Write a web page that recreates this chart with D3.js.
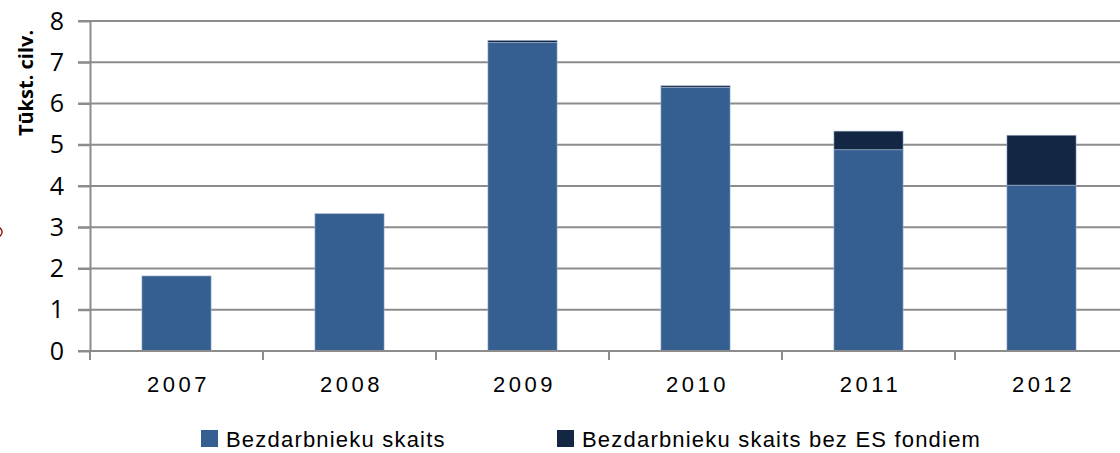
<!DOCTYPE html>
<html lang="en">
<head>
<meta charset="UTF-8">
<title>Bezdarbnieku skaits</title>
<style>
    body{ margin:0; background:#fff; }
    svg{ display:block; }
    .grid line{ stroke:#8c8c8c; stroke-width:2px; }
    .axis path, .axis line{ stroke:#8c8c8c; stroke-width:2px; }
    .yaxis text{ font-family:"Open Sans", sans-serif; font-size:25px; fill:#000; }
    .xaxis text{ font-family:"Liberation Sans", sans-serif; font-size:22px; letter-spacing:3.5px; fill:#000; }
    .ytitle{ font-family:"Open Sans", sans-serif; font-weight:bold; font-size:20px; fill:#000; }
    .legend text{ font-family:"Liberation Sans", sans-serif; font-size:22px; letter-spacing:1.2px; fill:#000; }
</style>
<script src="https://cdn.jsdelivr.net/npm/d3@7"></script>
</head>
<body>
<script>
    // data (thousand people)
    const years = ["2007", "2008", "2009", "2010", "2011", "2012"];
    const unemployed = [1.82, 3.33, 7.48, 6.39, 4.88, 4.02];
    const withoutESF = [0, 0, 0.05, 0.04, 0.45, 1.21];
    const yTicks = [0, 1, 2, 3, 4, 5, 6, 7, 8];
    const seriesNames = ["Bezdarbnieku skaits", "Bezdarbnieku skaits bez ES fondiem"];
    const seriesColors = ["#365f91", "#132744"];

    const width = 1120, height = 453;
    const margin = {top: 21, left: 90, bottom: 102, right: -8};

    const svg = d3.select("body").append("svg")
        .attr("width", width).attr("height", height);

    const x = d3.scaleBand()
        .domain(years)
        .range([margin.left, width - margin.right])
        .paddingInner(0.6).paddingOuter(0.3);

    const y = d3.scaleLinear()
        .domain([0, 8])
        .range([height - margin.bottom, margin.top]);

    // gridlines
    svg.append("g").attr("class", "grid")
        .selectAll("line")
        .data(yTicks)
        .enter().append("line")
        .attr("x1", margin.left - 12).attr("x2", width)
        .attr("y1", d => y(d)).attr("y2", d => y(d));

    // stacked bars
    const stacked = d3.stack().keys([0, 1])(years.map((yr, i) => ({0: unemployed[i], 1: withoutESF[i], year: yr})));
    svg.append("g").selectAll("g")
        .data(stacked)
        .enter().append("g")
        .attr("fill", (d, i) => seriesColors[i])
        .selectAll("rect")
        .data(d => d)
        .enter().append("rect")
        .attr("x", d => x(d.data.year))
        .attr("width", x.bandwidth())
        .attr("y", d => y(d[1]))
        .attr("height", d => y(d[0]) - y(d[1]))
        .attr("stroke", "#a9bcd6")
        .attr("stroke-width", 0.8)
        .attr("stroke-opacity", 0.7);

    // y axis
    svg.append("g").attr("class", "axis yaxis")
        .attr("transform", `translate(${margin.left},0)`)
        .call(d3.axisLeft(y).tickValues(yTicks).tickSize(12).tickPadding(14).tickSizeOuter(0));

    // x axis with ticks between categories
    const boundaries = d3.range(years.length + 1).map(i => margin.left + i * (width - margin.right - margin.left) / years.length);
    const xAxisG = svg.append("g").attr("class", "axis xaxis");
    xAxisG.append("line")
        .attr("x1", margin.left).attr("x2", width)
        .attr("y1", y(0)).attr("y2", y(0));
    xAxisG.selectAll(".tk")
        .data(boundaries)
        .enter().append("line")
        .attr("x1", d => d).attr("x2", d => d)
        .attr("y1", y(0)).attr("y2", y(0) + 9);
    xAxisG.selectAll("text")
        .data(years)
        .enter().append("text")
        .attr("x", d => x(d) + x.bandwidth() / 2 + 2)
        .attr("y", y(0) + 41)
        .attr("text-anchor", "middle")
        .text(d => d);

    // y title
    svg.append("text").attr("class", "ytitle")
        .attr("transform", `translate(33,83) rotate(-90)`)
        .attr("text-anchor", "middle")
        .text("Tūkst. cilv.");

    // small red mark at the left edge
    svg.append("circle")
        .attr("cx", -3).attr("cy", 232).attr("r", 5)
        .attr("fill", "none").attr("stroke", "#8b2020").attr("stroke-width", 1.5);

    // legend
    const legendPos = [201, 557];
    const legend = svg.append("g").attr("class", "legend")
        .selectAll("g")
        .data(seriesNames)
        .enter().append("g")
        .attr("transform", (d, i) => `translate(${legendPos[i]},430)`);
    legend.append("rect")
        .attr("width", 17).attr("height", 17)
        .attr("fill", (d, i) => seriesColors[i]);
    legend.append("text")
        .attr("x", 25).attr("y", 17)
        .text(d => d);
</script>
</body>
</html>
